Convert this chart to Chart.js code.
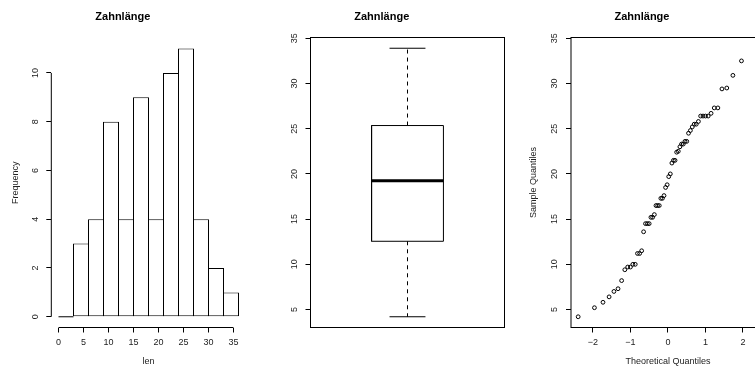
<!DOCTYPE html>
<html>
<head>
<meta charset="utf-8">
<script src="https://cdn.jsdelivr.net/npm/chart.js@4/dist/chart.umd.min.js"></script>
<style>
  html, body { margin: 0; padding: 0; background: #fff; overflow: hidden; width: 755px; height: 367px; }
  canvas { position: absolute; top: 0; }
</style>
</head>
<body>
<canvas id="hist" width="259" height="367" style="left:0px"></canvas>
<canvas id="box" width="260" height="367" style="left:259px"></canvas>
<canvas id="qq" width="260" height="367" style="left:519px"></canvas>
<script>
// Tooth length (len) of 60 guinea pigs
const panelTitle = 'Zahnlänge';

// Histogram
const breaks = [0, 3, 6, 9, 12, 15, 18, 21, 24, 27, 30, 33, 36];
const counts = [0, 3, 4, 8, 4, 9, 4, 10, 11, 4, 2, 1];
const histXTicks = [0, 5, 10, 15, 20, 25, 30, 35];
const histYTicks = [0, 2, 4, 6, 8, 10];

// Boxplot: min, lower hinge, median, upper hinge, max
const boxStats = [4.2, 12.55, 19.25, 25.35, 33.9];
const lenTicks = [5, 10, 15, 20, 25, 30, 35];

// Normal Q-Q plot
const lenSorted = [
  4.2, 5.2, 5.8, 6.4, 7.0, 7.3, 8.2, 9.4, 9.7, 9.7,
  10.0, 10.0, 11.2, 11.2, 11.5, 13.6, 14.5, 14.5, 14.5, 15.2,
  15.2, 15.5, 16.5, 16.5, 16.5, 17.3, 17.3, 17.6, 18.5, 18.8,
  19.7, 20.0, 21.2, 21.5, 21.5, 22.4, 22.5, 23.0, 23.3, 23.3,
  23.6, 23.6, 24.5, 24.8, 25.2, 25.5, 25.5, 25.8, 26.4, 26.4,
  26.4, 26.4, 26.7, 27.3, 27.3, 29.4, 29.5, 30.9, 32.5, 33.9
];
const theoQuantiles = [
  -2.394, -1.960, -1.732, -1.569, -1.440, -1.331, -1.235, -1.150, -1.073, -1.001,
  -0.935, -0.872, -0.812, -0.755, -0.701, -0.649, -0.598, -0.549, -0.501, -0.454,
  -0.408, -0.363, -0.319, -0.275, -0.232, -0.189, -0.147, -0.105, -0.063, -0.021,
  0.021, 0.063, 0.105, 0.147, 0.189, 0.232, 0.275, 0.319, 0.363, 0.408,
  0.454, 0.501, 0.549, 0.598, 0.649, 0.701, 0.755, 0.812, 0.872, 0.935,
  1.001, 1.073, 1.150, 1.235, 1.331, 1.440, 1.569, 1.732, 1.960, 2.394
];
const qqXTicks = [-2, -1, 0, 1, 2];
const qqXLabels = ['\u22122', '\u22121', '0', '1', '2'];

const FONT = '"Liberation Sans", Arial, Helvetica, sans-serif';
Chart.defaults.font.family = FONT;
Chart.defaults.font.size = 9;
Chart.defaults.color = '#222';

// R-like axes: axis line from first to last tick, rotated y labels, optional frame
const rAxes = {
  id: 'rAxes',
  afterDraw(chart, args, opts) {
    const ctx = chart.ctx, a = chart.chartArea;
    ctx.save();
    ctx.strokeStyle = '#000';
    ctx.lineWidth = 1;
    if (opts.frame) {
      ctx.strokeRect(a.left, a.top, a.right - a.left, a.bottom - a.top);
    }
    if (opts.axisLines) {
      const xs = chart.scales.x, ys = chart.scales.y;
      ctx.beginPath();
      ctx.moveTo(xs.getPixelForValue(xs.ticks[0].value), a.bottom);
      ctx.lineTo(xs.getPixelForValue(xs.ticks[xs.ticks.length - 1].value), a.bottom);
      ctx.moveTo(a.left, ys.getPixelForValue(ys.ticks[0].value));
      ctx.lineTo(a.left, ys.getPixelForValue(ys.ticks[ys.ticks.length - 1].value));
      ctx.stroke();
    }
    const ys = chart.scales.y;
    ctx.fillStyle = '#222';
    ctx.font = '9px ' + FONT;
    ctx.textAlign = 'center';
    ctx.textBaseline = 'middle';
    ys.ticks.forEach(t => {
      ctx.save();
      ctx.translate(a.left - opts.labelGap, ys.getPixelForValue(t.value));
      ctx.rotate(-Math.PI / 2);
      ctx.fillText(String(t.value), 0, 0);
      ctx.restore();
    });
    ctx.restore();
  }
};

function tickGrid() {
  return { display: true, drawOnChartArea: false, drawTicks: true, tickLength: 5, color: '#000', lineWidth: 1 };
}

function yScale(min, max, ticks, axisWidth, title, titlePad) {
  return {
    type: 'linear', position: 'left', min, max,
    afterBuildTicks: s => { s.ticks = ticks.map(v => ({ value: v })); },
    afterFit: s => { s.width = axisWidth; },
    grid: tickGrid(),
    border: { display: false },
    ticks: { display: false },
    title: { display: !!title, text: title || '', font: { size: 9 }, color: '#222', padding: { top: titlePad, bottom: 0 } }
  };
}

function xScale(min, max, ticks, labels, title) {
  return {
    type: 'linear', position: 'bottom', min, max, offset: false,
    afterBuildTicks: s => { s.ticks = ticks.map(v => ({ value: v })); },
    afterFit: s => { s.height = 39.5; },
    grid: Object.assign(tickGrid(), { offset: false }),
    border: { display: false },
    ticks: {
      display: true, padding: 5, autoSkip: false, maxRotation: 0, minRotation: 0,
      font: { size: 9 }, color: '#222',
      callback: (v, i) => labels ? labels[i] : String(v)
    },
    title: { display: true, text: title, font: { size: 9 }, color: '#222', padding: { top: 0, bottom: 0 } }
  };
}

function titleOpts(chartTop) {
  return {
    display: true, text: panelTitle, color: '#000',
    font: { size: 11, weight: 'bold', family: FONT },
    padding: { top: 9.9, bottom: chartTop - 9.9 - 13.2 }
  };
}

const common = {
  responsive: false, animation: false, devicePixelRatio: 1, events: [],
};

// ---- Histogram ----
const histBars = counts.map((c, i) => ({ x: (breaks[i] + breaks[i + 1]) / 2, y: c }));
const emptyBins = [];
counts.forEach((c, i) => {
  if (c === 0) { emptyBins.push({ x: breaks[i], y: 0 }, { x: breaks[i + 1], y: 0 }); }
});

new Chart(document.getElementById('hist'), {
  type: 'bar',
  data: {
    datasets: [
      {
        data: histBars, backgroundColor: '#fff', borderColor: '#000', borderWidth: 1,
        borderSkipped: false, barThickness: 16, inflateAmount: 0
      },
      {
        type: 'line', data: emptyBins, borderColor: '#000', borderWidth: 1,
        pointRadius: 0, fill: false, tension: 0
      }
    ]
  },
  options: Object.assign({}, common, {
    layout: { padding: { left: 0, top: 0, bottom: 0, right: 259 - 51.3 - 194.4 } },
    scales: {
      x: xScale(-1.44, 37.44, histXTicks, null, 'len'),
      y: yScale(-0.44, 11.44, histYTicks, 51.3, 'Frequency', 10.6)
    },
    plugins: {
      legend: { display: false }, tooltip: { enabled: false },
      title: titleOpts(37.8),
      rAxes: { frame: false, axisLines: true, labelGap: 16 }
    }
  }),
  plugins: [rAxes]
});

// ---- Boxplot ----
const [bMin, bLow, bMed, bUp, bMax] = boxStats;
const boxCenter = 1, boxHalf = 0.2, capHalf = 0.1;
const lineDs = (pts, extra) => Object.assign({
  data: pts, borderColor: '#000', borderWidth: 1, pointRadius: 0, fill: false, tension: 0
}, extra || {});

new Chart(document.getElementById('box'), {
  type: 'line',
  data: {
    datasets: [
      lineDs([
        { x: boxCenter - boxHalf, y: bLow }, { x: boxCenter + boxHalf, y: bLow },
        { x: boxCenter + boxHalf, y: bUp }, { x: boxCenter - boxHalf, y: bUp },
        { x: boxCenter - boxHalf, y: bLow }
      ]),
      lineDs([{ x: boxCenter - boxHalf, y: bMed }, { x: boxCenter + boxHalf, y: bMed }], { borderWidth: 3 }),
      lineDs([{ x: boxCenter, y: bUp }, { x: boxCenter, y: bMax }], { borderDash: [4, 4] }),
      lineDs([{ x: boxCenter, y: bLow }, { x: boxCenter, y: bMin }], { borderDash: [4, 4] }),
      lineDs([{ x: boxCenter - capHalf, y: bMax }, { x: boxCenter + capHalf, y: bMax }]),
      lineDs([{ x: boxCenter - capHalf, y: bMin }, { x: boxCenter + capHalf, y: bMin }])
    ]
  },
  options: Object.assign({}, common, {
    layout: { padding: { left: 0, top: 0, bottom: 39.5, right: 260 - 51.5 - 194 } },
    scales: {
      x: { type: 'linear', display: false, min: 0.46, max: 1.54 },
      y: yScale(3.012, 35.088, lenTicks, 51.5, null, 0)
    },
    plugins: {
      legend: { display: false }, tooltip: { enabled: false },
      title: titleOpts(37.5),
      rAxes: { frame: true, axisLines: false, labelGap: 16 }
    }
  }),
  plugins: [rAxes]
});

// ---- Normal Q-Q plot ----
new Chart(document.getElementById('qq'), {
  type: 'scatter',
  data: {
    datasets: [{
      data: lenSorted.map((v, i) => ({ x: theoQuantiles[i], y: v })),
      pointStyle: 'circle', pointRadius: 1.9, borderWidth: 1,
      borderColor: '#000', backgroundColor: 'rgba(0,0,0,0)'
    }]
  },
  options: Object.assign({}, common, {
    layout: { padding: { left: 0, top: 0, bottom: 0, right: 260 - 52 - 193.9 } },
    scales: {
      x: xScale(-2.585, 2.585, qqXTicks, qqXLabels, 'Theoretical Quantiles'),
      y: yScale(3.012, 35.088, lenTicks, 52, 'Sample Quantiles', 8.8)
    },
    plugins: {
      legend: { display: false }, tooltip: { enabled: false },
      title: titleOpts(37.5),
      rAxes: { frame: true, axisLines: false, labelGap: 16 }
    }
  }),
  plugins: [rAxes]
});
</script>
</body>
</html>
